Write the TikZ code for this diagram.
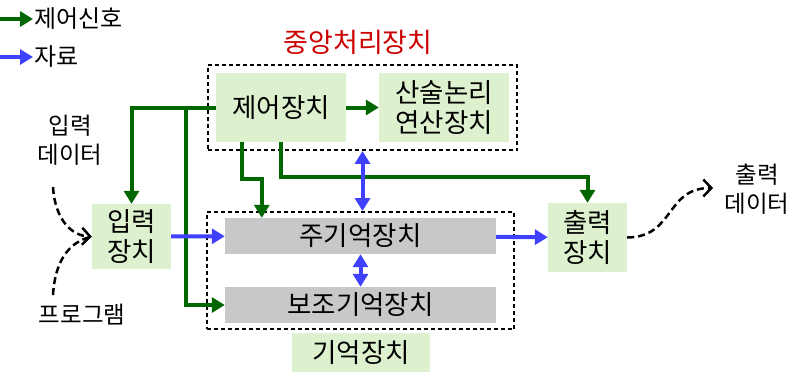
\documentclass[tikz,border=0pt]{standalone}
\usepackage{fontspec}
\newfontfamily\kr{Noto Sans CJK KR}
\usetikzlibrary{arrows.meta,positioning,fit}
\definecolor{sigcol}{RGB}{0,102,0}
\definecolor{datcol}{RGB}{64,64,255}
\definecolor{unitfill}{RGB}{222,241,206}
\definecolor{memfill}{RGB}{200,200,200}
\definecolor{cpured}{RGB}{204,0,0}

\begin{document}
\begin{tikzpicture}[x=1pt, y=-1pt,
      unit/.style={rectangle, fill=unitfill, align=center, inner sep=0pt,
                   font=\kr\fontsize{26.5}{30}\selectfont},
      mem/.style={rectangle, fill=memfill, align=center, inner sep=0pt,
                  minimum width=271pt, minimum height=36pt,
                  font=\kr\fontsize{26.5}{30}\selectfont},
      grp/.style={rectangle, draw=black, line width=1.5pt,
                  dash pattern=on 4pt off 3pt},
      lbl/.style={align=center, inner sep=1pt, font=\kr\fontsize{23.5}{29}\selectfont},
      sig/.style={-{Triangle[length=13pt, width=15pt]}, line width=4pt, draw=sigcol},
      dat/.style={-{Triangle[length=13pt, width=15pt]}, line width=4pt, draw=datcol},
      dat2/.style={{Triangle[length=13pt, width=15pt]}-{Triangle[length=13pt, width=15pt]},
                   line width=4pt, draw=datcol},
      flow/.style={line width=2.5pt, dash pattern=on 7pt off 4pt},
      flowarr/.style={flow, -{Straight Barb[length=8pt, width=17pt]}}
    ]
    \useasboundingbox (0,0) rectangle (811,389);
    % legend
    \coordinate (lgsigs) at (0,19);
    \coordinate (lgdats) at (0,57);
    \node[lbl, anchor=west, font=\kr\fontsize{24}{29}\selectfont] (lgsig) at (33,19) {제어신호};
    \node[lbl, anchor=west, font=\kr\fontsize{24}{29}\selectfont] (lgdat) at (33,57) {자료};
    \draw[sig] (lgsigs) -- (lgsig.west);
    \draw[dat] (lgdats) -- (lgdat.west);
    % units
    \node[unit, minimum width=130pt, minimum height=69pt] (ctrl) at (281,107.5) {제어장치};
    \node[unit, minimum width=130pt, minimum height=69pt] (alu) at (444,107.5) {산술논리\\연산장치};
    \node[unit, minimum width=79pt, minimum height=65pt] (inp) at (131.5,236.5) {입력\\장치};
    \node[unit, minimum width=79pt, minimum height=69pt] (outp) at (587.5,237.5) {출력\\장치};
    \node[mem] (main) at (360.5,236) {주기억장치};
    \node[mem] (aux) at (360.5,305) {보조기억장치};
    \node[grp, fit=(ctrl)(alu), inner sep=8pt] (cpu) {};
    \node[grp, fit=(main)(aux), inner xsep=18pt, inner ysep=6pt] (memgrp) {};
    \node[font=\kr\fontsize{27}{30}\selectfont, text=cpured, inner sep=0pt] (cpulbl) at (358,42) {중앙처리장치};
    \node[unit, minimum width=138pt, minimum height=39pt] (memlbl) at (361,352.5) {기억장치};
    % outside texts
    \node[lbl] (indata) at (70,140) {입력\\데이터};
    \node[lbl] (prog) at (82,315) {프로그램};
    \node[lbl] (outdata) at (757,189) {출력\\데이터};
    \coordinate (d1) at (53,187);
    \coordinate (d2) at (53,295);
    \coordinate (br) at (186,109);
    % control signals
    \draw[sig] (ctrl) -- (alu);
    \draw[sig] (ctrl.west) -| (inp.north);
    \draw[sig] (br) |- (aux.west);
    \draw[sig] ([xshift=-39pt]ctrl.south) -- ++(0,37) -| ([xshift=37pt]main.north west);
    \draw[sig] (ctrl.south) -- ++(0,35) -| (outp.north);
    % data
    \draw[dat] (inp) -- (main);
    \draw[dat] (main) -- (outp);
    \draw[dat2] (cpu.south) -- (cpu.south |- memgrp.north);
    \draw[dat2] (main) -- (aux);
    % input and output flow
    \draw[flowarr] (d1) .. controls (55,220) and (72,236) .. (inp.west);
    \draw[flow] (d2) .. controls (55,262) and (68,242) .. (inp.west);
    \draw[flowarr] (outp.east) .. controls (675,237) and (665,188) .. (713,188);
  \end{tikzpicture}
\end{document}
